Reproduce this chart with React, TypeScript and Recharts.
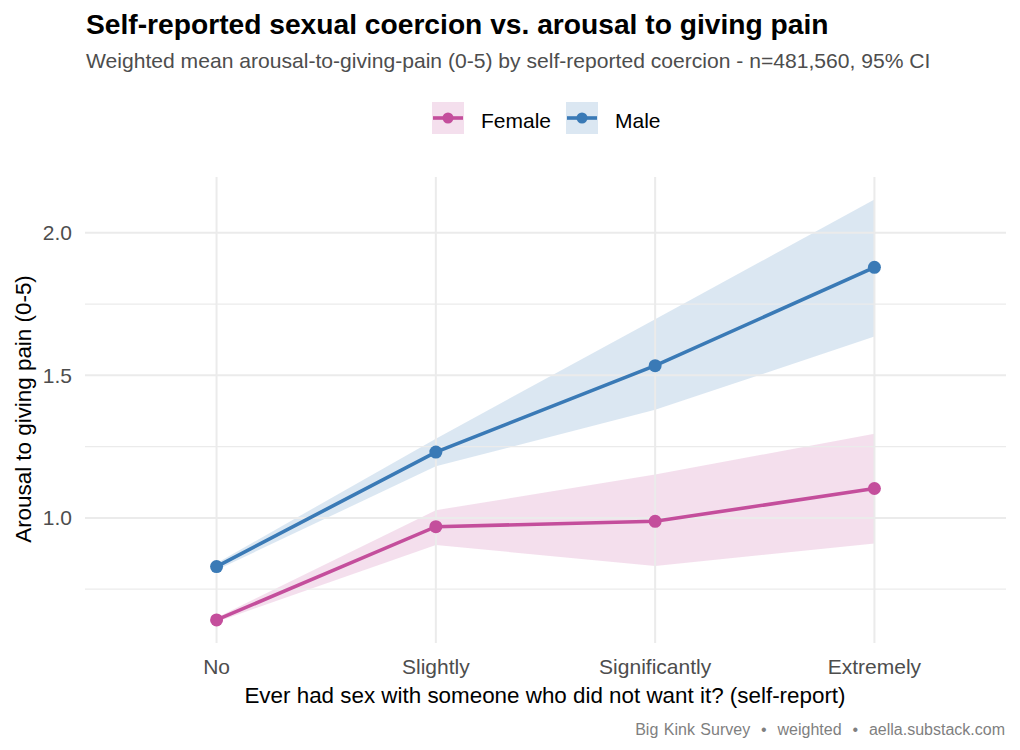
import {
  ComposedChart, XAxis, YAxis, Area, Line, ReferenceLine,
} from "recharts";

// Coercion categories along the x axis
const categories = ["No", "Slightly", "Significantly", "Extremely"];

// Weighted mean arousal-to-giving-pain (0-5) with 95% CI
const femaleMean = [0.642, 0.969, 0.988, 1.103];
const femaleLow = [0.635, 0.905, 0.831, 0.91];
const femaleHigh = [0.65, 1.027, 1.152, 1.295];

const maleMean = [0.829, 1.231, 1.534, 1.879];
const maleLow = [0.817, 1.181, 1.379, 1.636];
const maleHigh = [0.841, 1.278, 1.697, 2.117];

const yTicks = [1.0, 1.5, 2.0];
const yMinor = [0.75, 1.25, 1.75];
const yDomain: [number, number] = [0.561, 2.196];

const FEMALE = "#C44E9C";
const MALE = "#3A7AB6";
const GRID = "#EBEBEB";
const FONT = "'Liberation Sans', Arial, sans-serif";

const data = categories.map((c, i) => ({
  x: i,
  label: c,
  female: femaleMean[i],
  femaleCI: [femaleLow[i], femaleHigh[i]],
  male: maleMean[i],
  maleCI: [maleLow[i], maleHigh[i]],
}));

function LegendKey({ x, color }: { x: number; color: string }) {
  return (
    <g>
      <rect x={x} y={102} width={32} height={32} fill={color} fillOpacity={0.18} />
      <line x1={x + 1} x2={x + 31} y1={118} y2={118} stroke={color} strokeWidth={3.6} />
      <circle cx={x + 16} cy={118} r={5.5} fill={color} />
    </g>
  );
}

export default function App() {
  return (
    <div style={{ position: "absolute", left: 0, top: 0, width: 1020, height: 750, background: "#fff" }}>
      <ComposedChart
        width={1020}
        height={750}
        data={data}
        margin={{ top: 177, right: 14, bottom: 77, left: 35 }}
        style={{ fontFamily: FONT }}
      >
        <XAxis
          dataKey="x"
          type="number"
          domain={[-0.6, 3.6]}
          ticks={[0, 1, 2, 3]}
          tickFormatter={(v: number) => categories[v]}
          axisLine={false}
          tickLine={false}
          tickSize={0}
          tickMargin={16}
          height={30}
          tick={{ fill: "#4D4D4D", fontSize: 21, fontFamily: FONT }}
          allowDataOverflow
        />
        <YAxis
          type="number"
          domain={yDomain}
          ticks={yTicks}
          tickFormatter={(v: number) => v.toFixed(1)}
          axisLine={false}
          tickLine={false}
          tickSize={0}
          tickMargin={13}
          width={50}
          tick={{ fill: "#4D4D4D", fontSize: 21, fontFamily: FONT }}
          allowDataOverflow
        />
        {yMinor.map((v) => (
          <ReferenceLine key={`mn${v}`} y={v} stroke={GRID} strokeWidth={1.1} />
        ))}
        {yTicks.map((v) => (
          <ReferenceLine key={`mj${v}`} y={v} stroke={GRID} strokeWidth={2} />
        ))}
        {categories.map((_, i) => (
          <ReferenceLine key={`v${i}`} x={i} stroke={GRID} strokeWidth={2} />
        ))}
        <Area
          dataKey="femaleCI"
          type="linear"
          stroke="none"
          fill={FEMALE}
          fillOpacity={0.18}
          isAnimationActive={false}
          activeDot={false}
        />
        <Area
          dataKey="maleCI"
          type="linear"
          stroke="none"
          fill={MALE}
          fillOpacity={0.18}
          isAnimationActive={false}
          activeDot={false}
        />
        <Line
          dataKey="female"
          type="linear"
          stroke={FEMALE}
          strokeWidth={3.6}
          dot={{ r: 6.5, fill: FEMALE, stroke: "none" }}
          activeDot={false}
          isAnimationActive={false}
        />
        <Line
          dataKey="male"
          type="linear"
          stroke={MALE}
          strokeWidth={3.6}
          dot={{ r: 6.5, fill: MALE, stroke: "none" }}
          activeDot={false}
          isAnimationActive={false}
        />
      </ComposedChart>

      {/* titles, legend, axis titles and caption */}
      <svg
        width={1020}
        height={750}
        style={{ position: "absolute", left: 0, top: 0, pointerEvents: "none", fontFamily: FONT }}
      >
        <text x={86} y={34} fontSize={28.2} fontWeight="bold" fill="#000">
          Self-reported sexual coercion vs. arousal to giving pain
        </text>
        <text x={86} y={68} fontSize={21.1} fill="#4D4D4D">
          Weighted mean arousal-to-giving-pain (0-5) by self-reported coercion - n=481,560, 95% CI
        </text>

        <LegendKey x={432} color={FEMALE} />
        <text x={481} y={128} fontSize={21} fill="#000">Female</text>
        <LegendKey x={566} color={MALE} />
        <text x={615} y={128} fontSize={21} fill="#000">Male</text>

        <text x={545} y={703} fontSize={22.4} fill="#000" textAnchor="middle">
          Ever had sex with someone who did not want it? (self-report)
        </text>
        <text
          x={31}
          y={409}
          fontSize={22.4}
          fill="#000"
          textAnchor="middle"
          transform="rotate(-90, 31, 409)"
        >
          Arousal to giving pain (0-5)
        </text>

        <text
          x={1005}
          y={735}
          fontSize={16}
          fill="#7F7F7F"
          textAnchor="end"
          style={{ whiteSpace: "pre", wordSpacing: 1 }}
        >
          {"Big Kink Survey  \u2022  weighted  \u2022  aella.substack.com"}
        </text>
      </svg>
    </div>
  );
}
